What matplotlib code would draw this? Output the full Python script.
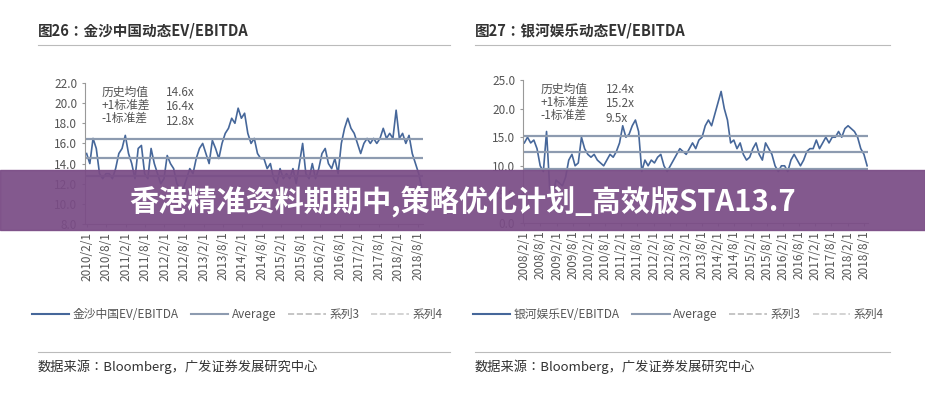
import numpy as np
import pandas as pd
import matplotlib.pyplot as plt
from matplotlib import font_manager
from matplotlib.patches import Rectangle
from matplotlib.lines import Line2D

cjk = [f.name for f in font_manager.fontManager.ttflist if 'CJK' in f.name]
fam = 'Noto Sans CJK SC' if 'Noto Sans CJK SC' in cjk else (cjk[0] if cjk else 'DejaVu Sans')
plt.rcParams['font.family'] = [fam, 'DejaVu Sans']

# 金沙中国 EV/EBITDA, monthly 2010/2 - 2018/9
sands_vals = [15, 14, 16.5, 15.5, 13, 12.5, 13, 13, 12.5, 13.5, 15, 15.5,
              16.8, 15, 14, 12.5, 15.5, 15.8, 13, 12.5, 15.5, 14, 13, 12,
              12.5, 14.8, 14, 13.5, 12, 11.5, 11.5, 12.5, 13.5, 13, 14.5, 15.5,
              16, 15, 14, 16.3, 15.5, 14.5, 16, 17, 17.5, 18.5, 18, 19.5,
              18.5, 19, 17, 16, 16.5, 15, 14.5, 14.5, 13.5, 14, 12.5, 12,
              13.5, 12.5, 13, 12.5, 13.5, 12, 14, 16, 13, 12.5, 14, 12.5,
              13.5, 15, 15.5, 14, 13.5, 14.5, 13, 16, 17.5, 18.5, 17.5, 17,
              16, 15, 16, 16.5, 16, 16.5, 16, 16.5, 17.5, 16.5, 17, 16.5,
              19.3, 16.5, 17, 16, 16.8, 15, 14, 13, 11.5]
sands_stats = [14.6, 16.4, 12.8]
sands_ticks = ['2010/2/1', '2010/8/1', '2011/2/1', '2011/8/1', '2012/2/1', '2012/8/1',
               '2013/2/1', '2013/8/1', '2014/2/1', '2014/8/1', '2015/2/1', '2015/8/1',
               '2016/2/1', '2016/8/1', '2017/2/1', '2017/8/1', '2018/2/1', '2018/8/1']

# 银河娱乐 EV/EBITDA, monthly 2008/2 - 2018/9
galaxy_vals = [14, 15, 14, 14.5, 13, 10, 9, 16, 6, 5, 7.5, 7,
               6.5, 8, 11, 12, 10, 10.5, 15, 13, 12, 11.5, 12, 11,
               10.5, 10, 11, 12, 11.5, 12.5, 14, 17, 15, 15.5, 17, 18,
               16, 9, 11, 10, 11, 10.5, 11.5, 12, 10, 9, 10, 11,
               12, 13, 12.5, 12, 13, 14, 13, 14.5, 15, 17, 18, 17,
               19, 21, 23, 20, 18, 14, 14.5, 13, 14, 12, 11, 11.5,
               13, 14, 12, 11, 14, 13, 12, 10, 9, 10, 10, 9,
               11, 12, 11, 10, 11, 12.5, 13, 13, 14.5, 13, 14, 15,
               14, 15, 15, 16, 15, 16.5, 17, 16.5, 16, 15, 13, 12, 10]
galaxy_stats = [12.4, 15.2, 9.5]
galaxy_ticks = ['2008/2/1', '2008/8/1', '2009/2/1', '2009/8/1', '2010/2/1', '2010/8/1',
                '2011/2/1', '2011/8/1', '2012/2/1', '2012/8/1', '2013/2/1', '2013/8/1',
                '2014/2/1', '2014/8/1', '2015/2/1', '2015/8/1', '2016/2/1', '2016/8/1',
                '2017/2/1', '2017/8/1', '2018/2/1', '2018/8/1']

LINE = '#46679a'
REF = '#8d9bb0'
TXT = '#555555'

fig = plt.figure(figsize=(9.25, 4), dpi=100)


def panel(rect, vals, stats, ticks, ylim, yticks, name, title, x0, x1):
    ax = fig.add_axes(rect)
    dates = pd.date_range(ticks[0], '2018-09-10', periods=len(vals))
    ax.plot(dates, vals, color=LINE, lw=1.2)
    for v in stats:
        ax.axhline(v, color=REF, lw=1.6)
    ax.set_ylim(*ylim)
    ax.set_yticks(yticks)
    ax.set_yticklabels(['%.1f' % v for v in yticks], fontsize=8.5, color=TXT)
    tpos = pd.to_datetime(ticks)
    ax.set_xticks(tpos)
    ax.set_xticklabels(ticks, rotation=90, fontsize=8.5, color=TXT)
    ax.set_xlim(tpos[0] - pd.Timedelta(days=15), pd.Timestamp('2018-09-20'))
    for s in ['top', 'right']:
        ax.spines[s].set_visible(False)
    ax.spines['left'].set_color('#999999')
    ax.spines['bottom'].set_color('#999999')
    ax.tick_params(length=2, color='#999999')
    ax.text(0.05, 0.98, '历史均值\n+1标准差\n-1标准差', transform=ax.transAxes,
            va='top', fontsize=8.5, color=TXT, linespacing=1.0)
    ax.text(0.24, 0.98, '%.1fx\n%.1fx\n%.1fx' % tuple(stats), transform=ax.transAxes,
            va='top', fontsize=8.5, color=TXT, linespacing=1.15)
    h = [Line2D([], [], color=LINE, lw=1.5), Line2D([], [], color=REF, lw=1.5),
         Line2D([], [], color='#bbbbbb', lw=1.2, ls='--'), Line2D([], [], color='#cccccc', lw=1.2, ls='--')]
    leg = ax.legend(h, [name + 'EV/EBITDA', 'Average', '系列3', '系列4'], loc='upper center',
                    bbox_to_anchor=(0.45, -0.52), ncol=4, frameon=False, fontsize=8.5,
                    handlelength=3.2, columnspacing=1.0, handletextpad=0.3)
    for t in leg.get_texts():
        t.set_color(TXT)
    fig.text(x0 / 925, 1 - 30 / 400, title, fontsize=10.5, weight='bold', color='#333333', va='center')
    fig.add_artist(Line2D([x0 / 925, x1 / 925], [1 - 45 / 400] * 2, color='#bbbbbb', lw=0.8))
    fig.add_artist(Line2D([x0 / 925, x1 / 925], [1 - 352 / 400] * 2, color='#bbbbbb', lw=0.8))
    fig.text(x0 / 925, 1 - 367 / 400, '数据来源：Bloomberg，广发证券发展研究中心', fontsize=9.5,
             color='#333333', va='center')
    return ax


panel([85 / 925, 1 - 224 / 400, 338 / 925, 141 / 400], sands_vals, sands_stats, sands_ticks,
      (8, 22), np.arange(8, 23, 2.0), '金沙中国', '图26：金沙中国动态EV/EBITDA', 38, 450)
panel([523 / 925, 1 - 223 / 400, 345 / 925, 143 / 400], galaxy_vals, galaxy_stats, galaxy_ticks,
      (0, 25), np.arange(0, 26, 5.0), '银河娱乐', '图27：银河娱乐动态EV/EBITDA', 475, 890)

fig.add_artist(Rectangle((0, 1 - 230 / 400), 1, 60 / 400, transform=fig.transFigure,
                         color='#7a4c86', alpha=0.93, zorder=10))
fig.text(0.5, 1 - 201 / 400, '香港精准资料期期中,策略优化计划_高效版STA13.7', ha='center',
         va='center', fontsize=21, weight='bold', color='white', zorder=11)

fig.savefig('out.png', dpi=100, facecolor='white')
